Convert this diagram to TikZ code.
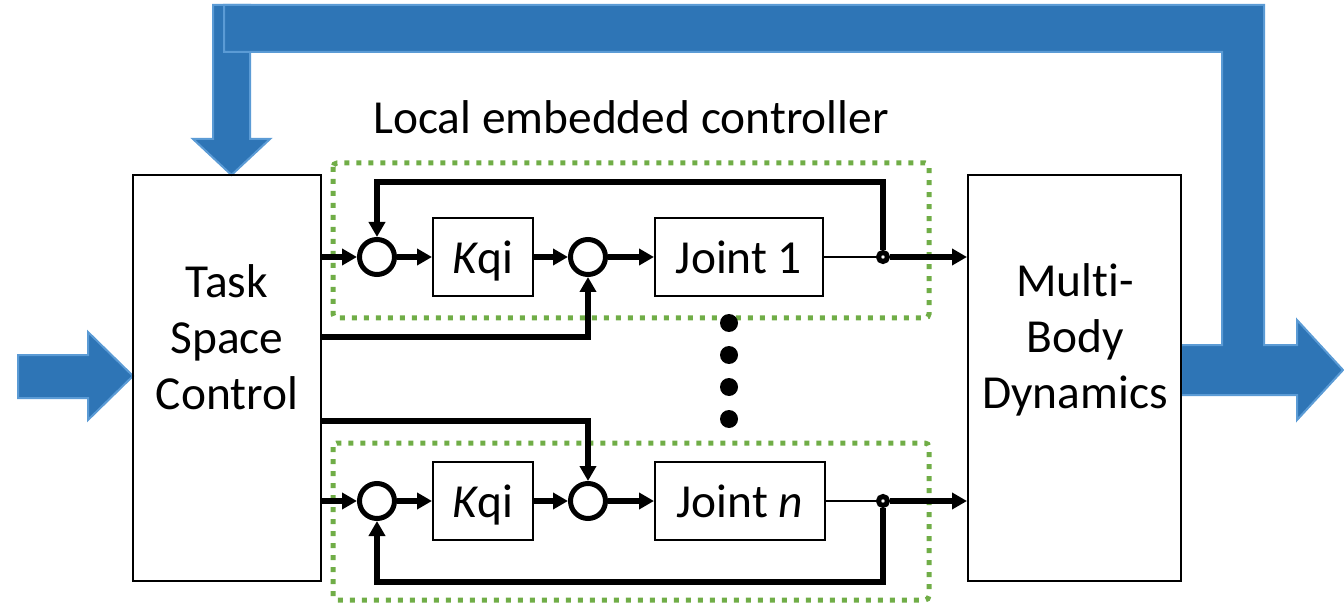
\documentclass[tikz,border=0pt]{standalone}
\usepackage{fontspec}
\setmainfont{Carlito}[Ligatures=NoCommon]
\usetikzlibrary{arrows.meta}
\definecolor{grpgreen}{HTML}{70AD47}
\definecolor{arrblue}{HTML}{2E75B6}
\definecolor{arredge}{HTML}{5B9BD5}

\begin{document}
\begin{tikzpicture}
[x=0.5pt,y=-0.5pt
,blk/.style={rectangle,draw,line width=1pt,inner sep=2pt,text height=20.8pt,text depth=4.5pt}
,big/.style={rectangle,draw,line width=1pt,minimum width=#1,minimum height=203pt}
,lbl/.style={align=center}
,sj/.style={circle,draw,line width=2.5pt,minimum size=17.5pt,inner sep=0pt}
,tap/.style={circle,draw,fill=white,line width=2.5pt,minimum size=4.5pt,inner sep=0pt}
,be/.style={line width=2.6pt,arrows={-Triangle[length=7.5pt,width=8pt]}}
,te/.style={line width=1pt}
,vd/.style={circle,fill=black,minimum size=9pt,inner sep=0pt}
,grp/.style={draw=grpgreen,line width=2.5pt,dash pattern=on 2.5pt off 3.5pt,rounded corners=2pt}
,bigarr/.style={fill=arrblue,draw=arredge,line width=1pt}
,font=\fontsize{23.7}{28}\selectfont]
\useasboundingbox (0,0) rectangle (1344,604);
% blue signal arrows
\draw[bigarr] (18,355) -- (88,355) -- (88,332) -- (133,376) -- (88,420) -- (88,398) -- (18,398) -- cycle;
\draw[bigarr] (213,5) -- (250,5) -- (250,139) -- (270,139) -- (231.5,175) -- (193,139) -- (213,139) -- cycle;
\draw[bigarr] (224,5) -- (1264,5) -- (1264,345) -- (1297,345) -- (1297,320) -- (1343,370)
  -- (1297,420) -- (1297,395) -- (1181,395) -- (1181,345) -- (1222,345) -- (1222,52) -- (224,52) -- cycle;
% local controller groups
\draw[grp] (333,163) rectangle (929,318);
\draw[grp] (333,443) rectangle (929,600);
\node[anchor=base] (ttl) at (631,134) {Local embedded controller};
% main blocks
\node[big=94pt] (tsc) at (227,378) {};
\node[big=106.5pt] (mbd) at (1074.5,378) {};
\node[lbl] (tsct) at (227,337) {Task\\Space\\Control};
\node[lbl] (mbdt) at (1075,340) {Multi-\\Body\\Dynamics};
% joint 1 loop
\node[sj] (c11) at (377,257) {};
\node[blk,minimum width=50pt,minimum height=39pt] (kq1) at (483,257) {{\itshape K}qi};
\node[sj] (c12) at (588,257) {};
\node[blk,minimum width=84pt,minimum height=39pt] (jt1) at (739,257) {Joint 1};
\node[tap] (j1) at (883,257) {};
% joint n loop
\node[sj] (cn1) at (377,501) {};
\node[blk,minimum width=50pt,minimum height=39pt] (kqn) at (483,501) {{\itshape K}qi};
\node[sj] (cn2) at (588,501) {};
\node[blk,minimum width=85pt,minimum height=39pt] (jtn) at (740,501) {Joint {\itshape n}};
\node[tap] (jn) at (883,501) {};
\foreach \yy [count=\i] in {323,355,387,419}
  \node[vd] (d\i) at (729,\yy) {};
\draw[be] (tsc.east |- c11) -- (c11);
\draw[be] (c11) -- (kq1);
\draw[be] (kq1) -- (c12);
\draw[be] (c12) -- (jt1);
\draw[te] (jt1) -- (j1);
\draw[be] (j1) -- (j1 -| mbd.west);
\draw[be] (j1) -- ++(0,-75) -| (c11);
\draw[be] (tsc.east |- 0,337) -| (c12);
\draw[be] (tsc.east |- cn1) -- (cn1);
\draw[be] (cn1) -- (kqn);
\draw[be] (kqn) -- (cn2);
\draw[be] (cn2) -- (jtn);
\draw[te] (jtn) -- (jn);
\draw[be] (jn) -- (jn -| mbd.west);
\draw[be] (jn) -- ++(0,81) -| (cn1);
\draw[be] (tsc.east |- 0,421) -| (cn2);
\end{tikzpicture}
\end{document}
